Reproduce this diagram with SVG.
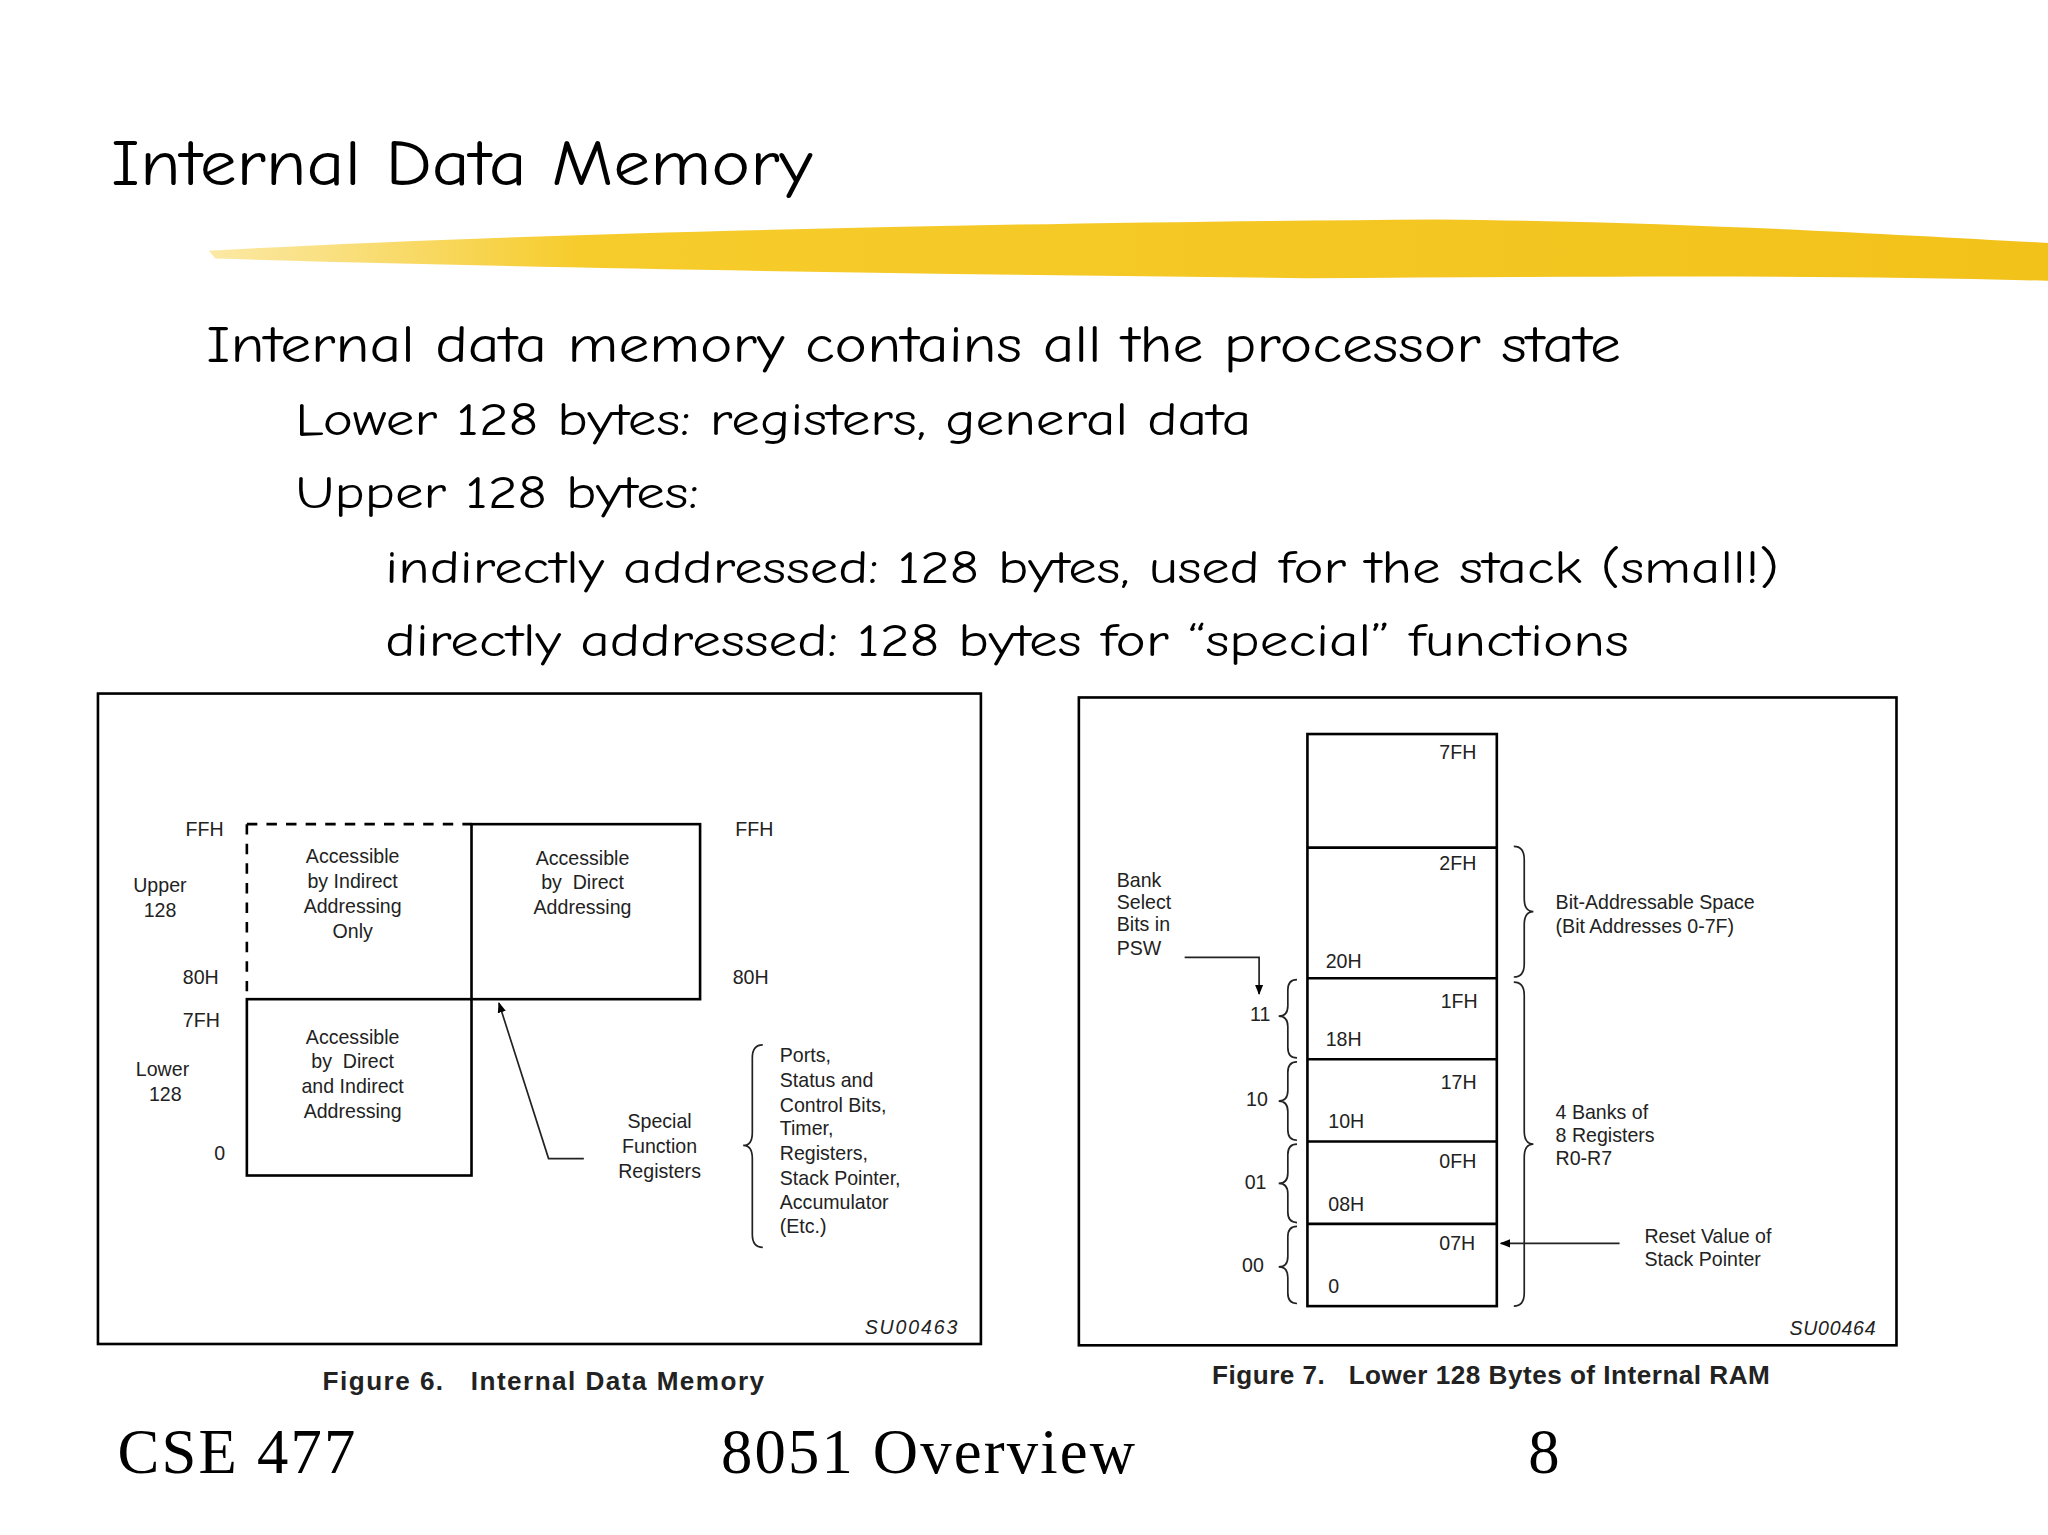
<svg xmlns="http://www.w3.org/2000/svg" width="2048" height="1535" viewBox="0 0 2048 1535">
<defs>
<linearGradient id="yb" x1="0" x2="1" y1="0" y2="0">
<stop offset="0" stop-color="#f7d24a" stop-opacity="0.5"/>
<stop offset="0.2" stop-color="#f6cc2c"/>
<stop offset="1" stop-color="#f2c21a"/>
</linearGradient>
<marker id="ah" viewBox="0 0 10 10" refX="9" refY="5" markerWidth="8" markerHeight="8" orient="auto" markerUnits="userSpaceOnUse"><path d="M0,1 L10,5 L0,9 z" fill="#000"/></marker>
<style>
.t{font-family:"Comic Neue","Lato","DejaVu Sans",sans-serif;fill:#000}
.s{font-family:"Liberation Sans",Arial,sans-serif;font-size:15px;fill:#222}
.b{font-family:"Liberation Sans",Arial,sans-serif;font-size:20px;font-weight:bold;fill:#222}
.f{font-family:"Liberation Serif","Times New Roman",serif;font-size:48px;fill:#000}
.ln{fill:none;stroke:#000;stroke-width:2}
.th{fill:none;stroke:#222;stroke-width:1.3}
</style>
</defs>
<rect width="2048" height="1535" fill="#fff"/>
<g transform="scale(1.30612)">
<text class="t" x="85" y="142" font-size="50" textLength="537" lengthAdjust="spacingAndGlyphs">Internal Data Memory</text>
<path d="M160,192 C400,178 800,170 1100,168 C1300,170 1450,180 1568,186 L1568,215 C1400,210 1200,212 1000,213 C700,210 400,205 165,198 Z" fill="url(#yb)"/>
<text class="t" x="158" y="277" font-size="40" textLength="1083" lengthAdjust="spacingAndGlyphs">Internal data memory contains all the processor state</text>
<text class="t" x="226" y="333" font-size="36" textLength="732" lengthAdjust="spacingAndGlyphs">Lower 128 bytes: registers, general data</text>
<text class="t" x="226" y="389" font-size="36" textLength="309" lengthAdjust="spacingAndGlyphs">Upper 128 bytes:</text>
<text class="t" x="295" y="446" font-size="36" textLength="1067" lengthAdjust="spacingAndGlyphs">indirectly addressed: 128 bytes, used for the stack (small!)</text>
<text class="t" x="295" y="502" font-size="36" textLength="952" lengthAdjust="spacingAndGlyphs">directly addressed: 128 bytes for “special” functions</text>

<g id="fig6">
<rect x="75" y="531" width="676" height="498" class="ln"/>
<path d="M189,631 H361 M189,631 V765" fill="none" stroke="#000" stroke-width="2" stroke-dasharray="8,7"/>
<rect x="361" y="631" width="175" height="134" class="ln"/>
<rect x="189" y="765" width="172" height="135" class="ln"/>
<text class="s" x="142" y="640">FFH</text>
<text class="s" x="102" y="683">Upper</text><text class="s" x="110" y="702">128</text>
<text class="s" x="140" y="753">80H</text>
<text class="s" x="140" y="786">7FH</text>
<text class="s" x="104" y="824">Lower</text><text class="s" x="114" y="843">128</text>
<text class="s" x="164" y="888">0</text>
<text class="s" x="563" y="640">FFH</text>
<text class="s" x="561" y="753">80H</text>
<g text-anchor="middle">
<text class="s" x="270" y="661">Accessible</text><text class="s" x="270" y="680">by Indirect</text><text class="s" x="270" y="699">Addressing</text><text class="s" x="270" y="718">Only</text>
<text class="s" x="446" y="662">Accessible</text><text class="s" x="446" y="681" xml:space="preserve">by  Direct</text><text class="s" x="446" y="700">Addressing</text>
<text class="s" x="270" y="799">Accessible</text><text class="s" x="270" y="818" xml:space="preserve">by  Direct</text><text class="s" x="270" y="837">and Indirect</text><text class="s" x="270" y="856">Addressing</text>
<text class="s" x="505" y="864">Special</text><text class="s" x="505" y="883">Function</text><text class="s" x="505" y="902">Registers</text>
</g>
<text class="s" x="597" y="813">Ports,</text><text class="s" x="597" y="832">Status and</text><text class="s" x="597" y="851">Control Bits,</text><text class="s" x="597" y="869">Timer,</text><text class="s" x="597" y="888">Registers,</text><text class="s" x="597" y="907">Stack Pointer,</text><text class="s" x="597" y="926">Accumulator</text><text class="s" x="597" y="944">(Etc.)</text>
<text class="s" x="662" y="1021" font-style="italic" textLength="71">SU00463</text>
</g>
<text class="b" x="247" y="1064" xml:space="preserve" textLength="338">Figure 6.   Internal Data Memory</text>

<g id="fig7">
<rect x="826" y="534" width="626" height="496" class="ln"/>
<rect x="1001" y="562" width="145" height="438" class="ln"/>
<path d="M1001,649 H1146 M1001,749 H1146 M1001,811 H1146 M1001,874 H1146 M1001,937 H1146" class="ln"/>
<text class="s" x="1102" y="581">7FH</text>
<text class="s" x="1102" y="666">2FH</text>
<text class="s" x="1015" y="741">20H</text>
<text class="s" x="1103" y="772">1FH</text>
<text class="s" x="1015" y="801">18H</text>
<text class="s" x="1103" y="834">17H</text>
<text class="s" x="1017" y="864">10H</text>
<text class="s" x="1102" y="894">0FH</text>
<text class="s" x="1017" y="927">08H</text>
<text class="s" x="1102" y="957">07H</text>
<text class="s" x="1017" y="990">0</text>
<text class="s" x="855" y="679">Bank</text><text class="s" x="855" y="696">Select</text><text class="s" x="855" y="713">Bits in</text><text class="s" x="855" y="731">PSW</text>
<text class="s" x="957" y="782">11</text><text class="s" x="954" y="847">10</text><text class="s" x="953" y="910">01</text><text class="s" x="951" y="974">00</text>
<text class="s" x="1191" y="696">Bit-Addressable Space</text><text class="s" x="1191" y="714">(Bit Addresses 0-7F)</text>
<text class="s" x="1191" y="857">4 Banks of</text><text class="s" x="1191" y="874">8 Registers</text><text class="s" x="1191" y="892">R0-R7</text>
<text class="s" x="1259" y="952">Reset Value of</text><text class="s" x="1259" y="969">Stack Pointer</text>
<text class="s" x="1370" y="1022" font-style="italic" textLength="66">SU00464</text>
</g>
<text class="b" x="928" y="1060" xml:space="preserve" textLength="427">Figure 7.   Lower 128 Bytes of Internal RAM</text>

<g id="connectors">
<path d="M447,887 H420 L382,768" class="th" marker-end="url(#ah)"/>
<path d="M907,733 H964 V761" class="th" marker-end="url(#ah)"/>
<path d="M1240,952 H1149" class="th" marker-end="url(#ah)"/>
<path d="M584,800 Q576,800 576,810 V867 Q576,877 569,877 Q576,877 576,887 V945 Q576,955 584,955" class="th"/>
<path d="M1159,648 Q1167,648 1167,658 V688 Q1167,698 1174,698 Q1167,698 1167,708 V738 Q1167,748 1159,748" class="th"/>
<path d="M1159,752 Q1167,752 1167,762 V866 Q1167,876 1174,876 Q1167,876 1167,886 V990 Q1167,1000 1159,1000" class="th"/>
<path d="M993,750 Q986,750 986,758 V770 Q986,778 979,778 Q986,778 986,786 V802 Q986,810 993,810" class="th"/>
<path d="M993,813 Q986,813 986,821 V835 Q986,843 979,843 Q986,843 986,851 V865 Q986,873 993,873" class="th"/>
<path d="M993,876 Q986,876 986,884 V898 Q986,906 979,906 Q986,906 986,914 V928 Q986,936 993,936" class="th"/>
<path d="M993,939 Q986,939 986,947 V962 Q986,970 979,970 Q986,970 986,978 V990 Q986,998 993,998" class="th"/>
</g>

<text class="f" x="90" y="1128" textLength="182">CSE 477</text>
<text class="f" x="552" y="1128" textLength="317">8051 Overview</text>
<text class="f" x="1170" y="1128">8</text>
</g>
</svg>
